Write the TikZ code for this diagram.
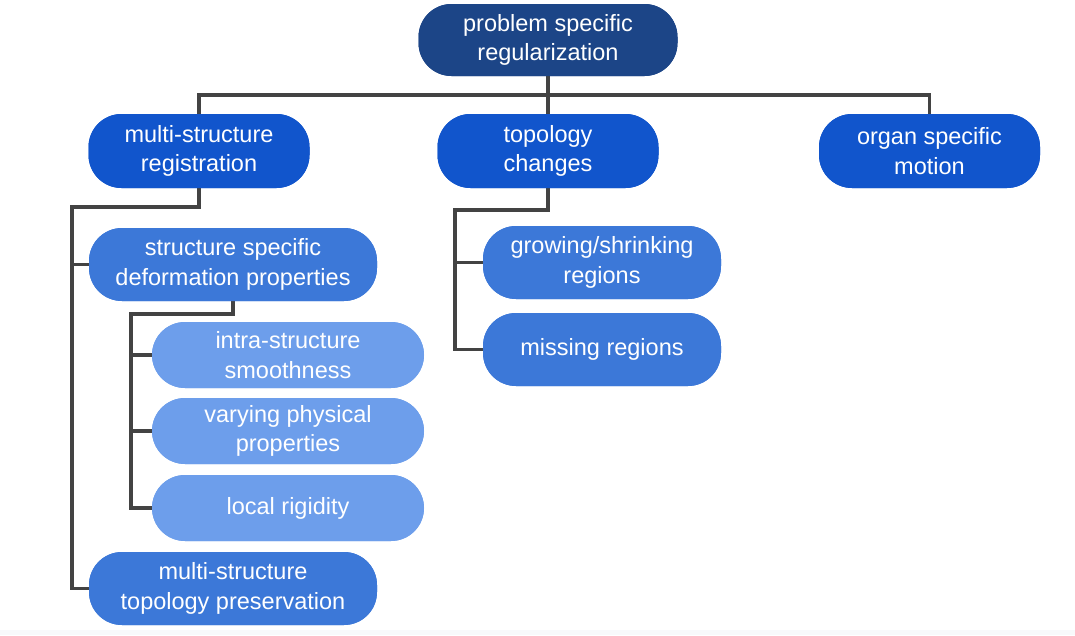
\documentclass[tikz,border=0pt]{standalone}
\usepackage{fontspec}
\setmainfont{Liberation Sans}
\definecolor{cRoot}{HTML}{1C4587}
\definecolor{cOne}{HTML}{1155CC}
\definecolor{cTwo}{HTML}{3C78D8}
\definecolor{cThree}{HTML}{6D9EEB}
\definecolor{cLine}{HTML}{434343}
\definecolor{cBand}{HTML}{F8F9FB}
\tikzset{
  box/.style={draw=none, text=white, align=center, inner sep=2pt,
    font=\fontsize{23.5}{29.5}\selectfont, rounded corners=33pt},
  rootbox/.style={box, fill=cRoot, minimum width=259pt, minimum height=72pt},
  onebox/.style={box, fill=cOne, minimum width=221pt, minimum height=74pt},
  twobox/.style={box, fill=cTwo, minimum height=73pt},
  threebox/.style={box, fill=cThree, minimum width=272pt, minimum height=66pt},
  conn/.style={draw=cLine, line width=3.6pt, line join=miter}
}
\begin{document}
\begin{tikzpicture}[x=1pt,y=-1pt]
\useasboundingbox (0,0) rectangle (1075,635);
\fill[cBand] (0,630) rectangle (1075,635);
% nodes
\node[rootbox] (root) at (548,40) {problem specific\\regularization};
\node[onebox] (msr) at (199,151) {multi-structure\\registration};
\node[onebox] (tc) at (548,151) {topology\\changes};
\node[onebox] (oms) at (929.5,151) {organ specific\\motion};
\node[twobox, minimum width=288pt] (ssdp) at (233,264.5) {structure specific\\deformation properties};
\node[threebox] (iss) at (288,355) {intra-structure\\smoothness};
\node[threebox] (vpp) at (288,431) {varying physical\\properties};
\node[threebox] (lr) at (288,508) {local rigidity};
\node[twobox, minimum width=288pt] (mstp) at (233,588.5) {multi-structure\\topology preservation};
\node[twobox, minimum width=238pt] (gsr) at (602,262.5) {growing/shrinking\\regions};
\node[twobox, minimum width=238pt] (mr) at (602,349.5) {missing regions};
% helper coordinates
\coordinate (bus) at (548,95);
\coordinate (msrT) at (72,207);
\coordinate (ssdpT) at (131,314);
\coordinate (tcT) at (455,210);
% connectors
\draw[conn] (root.south) -- (tc.north);
\draw[conn] (msr.north) -- (msr.north |- bus) -- (oms.north |- bus) -- (oms.north);
\draw[conn] (msr.south) |- (msrT) -- (msrT |- mstp.west) -- (mstp.west);
\draw[conn] (msrT |- ssdp.west) -- (ssdp.west);
\draw[conn] (ssdp.south) |- (ssdpT) -- (ssdpT |- lr.west) -- (lr.west);
\draw[conn] (ssdpT |- iss.west) -- (iss.west);
\draw[conn] (ssdpT |- vpp.west) -- (vpp.west);
\draw[conn] (tc.south) |- (tcT) -- (tcT |- mr.west) -- (mr.west);
\draw[conn] (tcT |- gsr.west) -- (gsr.west);
% redraw nodes on top of connectors
\node[rootbox] at (root) {problem specific\\regularization};
\node[onebox] at (msr) {multi-structure\\registration};
\node[onebox] at (tc) {topology\\changes};
\node[onebox] at (oms) {organ specific\\motion};
\node[twobox, minimum width=288pt] at (ssdp) {structure specific\\deformation properties};
\node[twobox, minimum width=288pt] at (mstp) {multi-structure\\topology preservation};
\node[twobox, minimum width=238pt] at (gsr) {growing/shrinking\\regions};
\node[twobox, minimum width=238pt] at (mr) {missing regions};
\node[threebox] at (iss) {intra-structure\\smoothness};
\node[threebox] at (vpp) {varying physical\\properties};
\node[threebox] at (lr) {local rigidity};
\end{tikzpicture}
\end{document}
